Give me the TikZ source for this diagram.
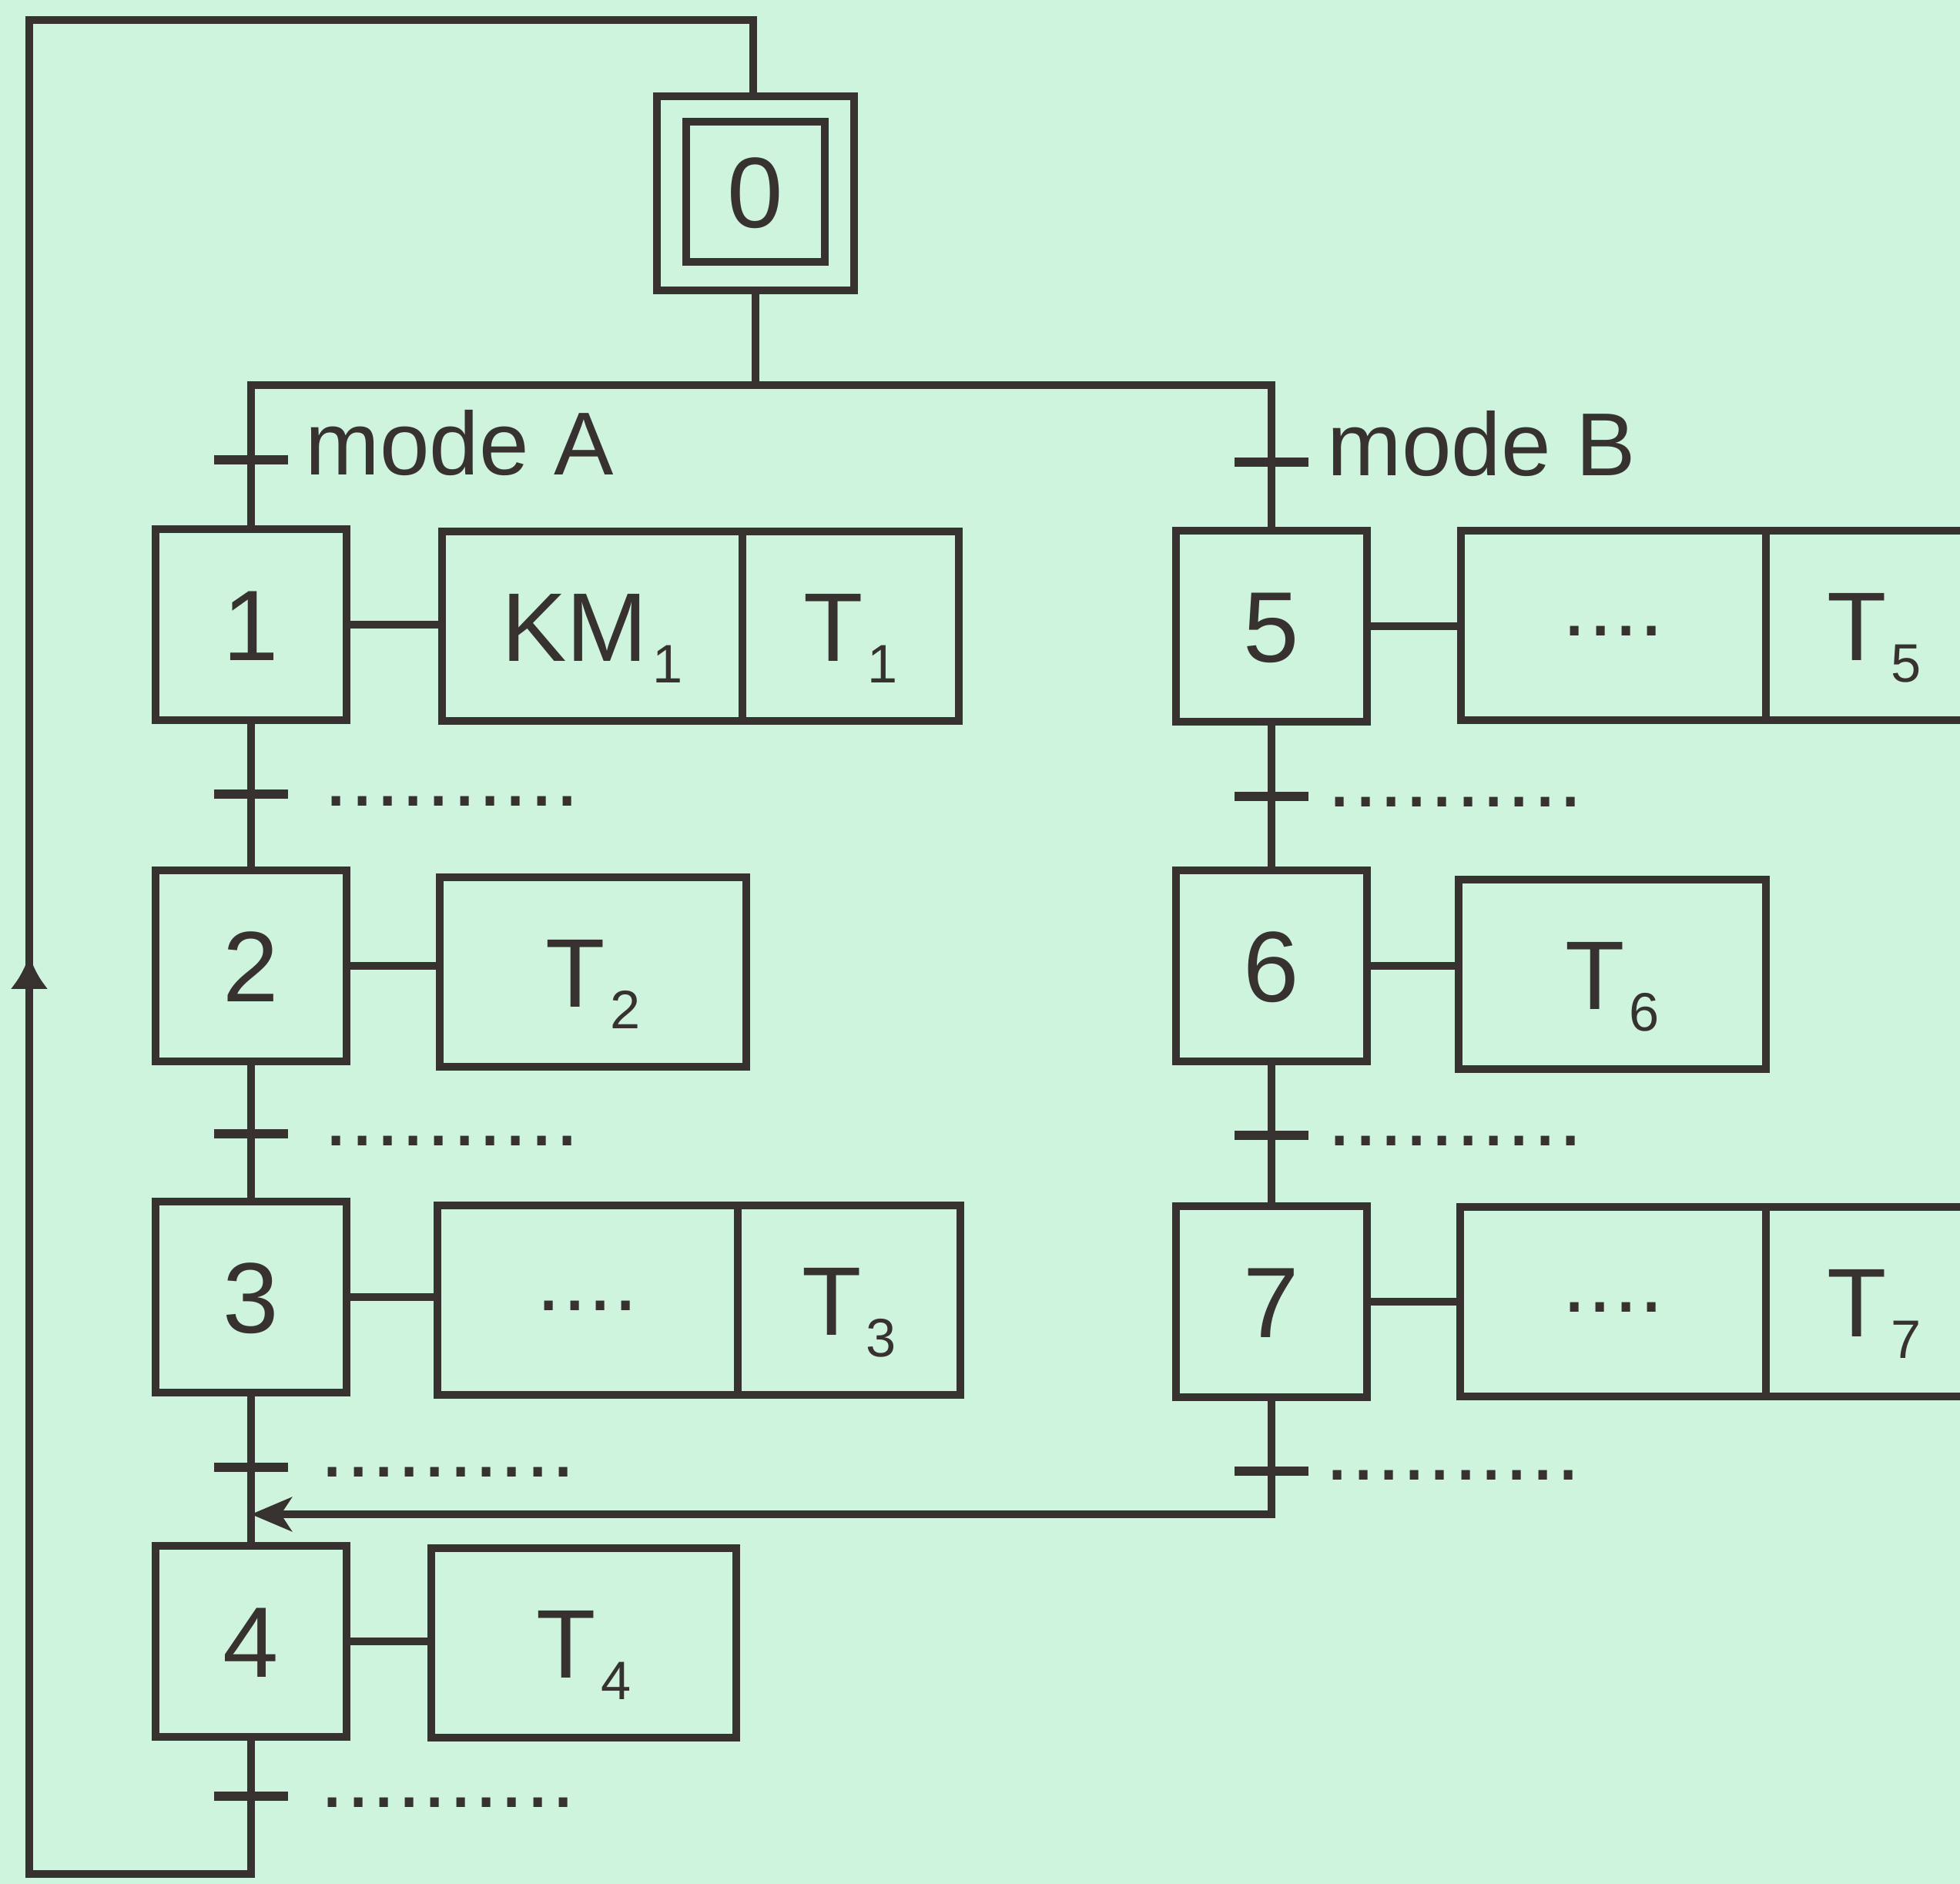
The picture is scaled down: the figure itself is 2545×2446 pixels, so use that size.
\documentclass[tikz,border=0pt]{standalone}
\usepackage{fontspec}
\setmainfont{Liberation Sans}
\usetikzlibrary{arrows.meta}
\definecolor{bg}{RGB}{206,244,222}
\definecolor{ink}{RGB}{55,50,47}
\newcommand\gsub[1]{\kern0.05em\raisebox{-0.22em}{\fontsize{20}{20}\selectfont #1}}
\newcommand\gdotsten{.\kern0.3pt.\kern0.3pt.\kern0.3pt.\kern0.3pt.\kern0.3pt.\kern0.3pt.\kern0.3pt.\kern0.3pt.\kern0.3pt.}
\newcommand\gdotsfour{.\kern0.3pt.\kern0.3pt.\kern0.3pt.}
\begin{document}
\begin{tikzpicture}[x=0.01cm,y=-0.01cm,
  ln/.style={draw=ink, line width=2.9pt, line join=miter},
  stepbox/.style={draw=ink, line width=2.9pt, minimum width=2.48cm, minimum height=2.48cm, inner sep=0pt,
    font=\fontsize{37}{40}\selectfont, text=ink, text height=26.5pt, text depth=0pt},
  actbox/.style={draw=ink, line width=2.9pt, minimum height=2.46cm, inner sep=0pt,
    font=\fontsize{36}{40}\selectfont, text=ink, text height=25.8pt, text depth=0pt},
  dotcell/.style={actbox, font=\fontsize{33}{36}\selectfont, text height=7.8pt},
  tick/.style={fill=ink, minimum width=0.96cm, minimum height=0.115cm, inner sep=0pt},
  dotlab/.style={anchor=west, inner sep=0pt, font=\fontsize{33}{36}\selectfont, text=ink, text height=3.2pt, text depth=0pt},
  modelab/.style={anchor=base west, inner sep=0pt, font=\fontsize{33}{36}\selectfont, text=ink},
]
\useasboundingbox (0,0) rectangle (2545,2446);
\clip (0,0) rectangle (2545,2446);
\fill[bg] (0,0) rectangle (2545,2446);

% initial step
\node[stepbox, minimum width=2.56cm, minimum height=2.52cm] (s0) at (981,251) {};
\node[stepbox, minimum width=1.80cm, minimum height=1.82cm] (s0i) at (981,249) {0};

% steps
\node[stepbox] (s1) at (326,811) {1};
\node[stepbox] (s2) at (326,1254) {2};
\node[stepbox] (s3) at (326,1684) {3};
\node[stepbox] (s4) at (326,2131) {4};
\node[stepbox] (s5) at (1651,813) {5};
\node[stepbox] (s6) at (1651,1254) {6};
\node[stepbox] (s7) at (1651,1690) {7};

% actions
\node[actbox, minimum width=3.90cm] (a1a) at (769,813) {KM\gsub{1}};
\node[actbox, minimum width=2.81cm] (a1b) at (1104.5,813) {T\gsub{1}};
\node[actbox, minimum width=3.98cm] (a2) at (770,1262) {T\gsub{2}};
\node[dotcell, minimum width=3.90cm] (a3a) at (763,1688) {\gdotsfour};
\node[actbox, minimum width=2.89cm] (a3b) at (1102.5,1688) {T\gsub{3}};
\node[actbox, minimum width=3.96cm] (a4) at (758,2133) {T\gsub{4}};
\node[dotcell, minimum width=3.96cm] (a5a) at (2095,812) {\gdotsfour};
\node[actbox, minimum width=2.81cm] (a5b) at (2433.5,812) {T\gsub{5}};
\node[actbox, minimum width=3.99cm] (a6) at (2093.5,1265) {T\gsub{6}};
\node[dotcell, minimum width=3.97cm] (a7a) at (2094.5,1690) {\gdotsfour};
\node[actbox, minimum width=2.81cm] (a7b) at (2433.5,1690) {T\gsub{7}};

% step-action links
\draw[ln] (s1.east) -- (s1.east -| a1a.west);
\draw[ln] (s2.east) -- (s2.east -| a2.west);
\draw[ln] (s3.east) -- (s3.east -| a3a.west);
\draw[ln] (s4.east) -- (s4.east -| a4.west);
\draw[ln] (s5.east) -- (s5.east -| a5a.west);
\draw[ln] (s6.east) -- (s6.east -| a6.west);
\draw[ln] (s7.east) -- (s7.east -| a7a.west);

% divergence
\coordinate (dA) at (326,500);
\coordinate (dB) at (1651,500);
\draw[ln] (s0.south) -- (s0.south |- dA);
\draw[ln] (s1.north) -- (dA) -- (dB) -- (s5.north);

% sequences
\draw[ln] (s1.south) -- (s2.north);
\draw[ln] (s2.south) -- (s3.north);
\draw[ln] (s3.south) -- (s4.north);
\draw[ln] (s5.south) -- (s6.north);
\draw[ln] (s6.south) -- (s7.north);

% convergence back to step 4
\coordinate (j4) at (326,1966);
\draw[ln, -{Stealth[length=15pt,width=12.5pt,inset=4pt]}] (s7.south) |- (j4);

% loop back to step 0
\coordinate (lBR) at (326,2433);
\coordinate (lBL) at (38,2433);
\coordinate (lTL) at (38,26);
\coordinate (lTR) at (978,26);
\draw[ln] (s4.south) -- (lBR) -- (lBL) -- (lTL) -- (lTR) -- (lTR |- s0.north);
\coordinate (arrS) at (38,1300);
\coordinate (arrE) at (38,1240);
\draw[ln, -{Latex[length=12.5pt,width=14pt]}] (arrS) -- (arrE);

% transitions
\node[tick] (tA) at (326,597) {};
\node[tick] (tB) at (1651,600) {};
\node[tick] (t12) at (326,1031) {};
\node[tick] (t23) at (326,1472) {};
\node[tick] (t34) at (326,1905) {};
\node[tick] (t40) at (326,2332) {};
\node[tick] (t56) at (1651,1034) {};
\node[tick] (t67) at (1651,1474) {};
\node[tick] (t7) at (1651,1910) {};

% transition labels
\node[modelab] (lA) at (396,617) {mode A};
\node[modelab] (lB) at (1723,618) {mode B};
\node[dotlab] (r12) at (420,1041) {\gdotsten};
\node[dotlab] (r23) at (420,1482) {\gdotsten};
\node[dotlab] (r34) at (415,1912) {\gdotsten};
\node[dotlab] (r40) at (415,2341) {\gdotsten};
\node[dotlab] (r56) at (1723,1042) {\gdotsten};
\node[dotlab] (r67) at (1723,1482) {\gdotsten};
\node[dotlab] (r7) at (1720,1916) {\gdotsten};
\end{tikzpicture}
\end{document}
